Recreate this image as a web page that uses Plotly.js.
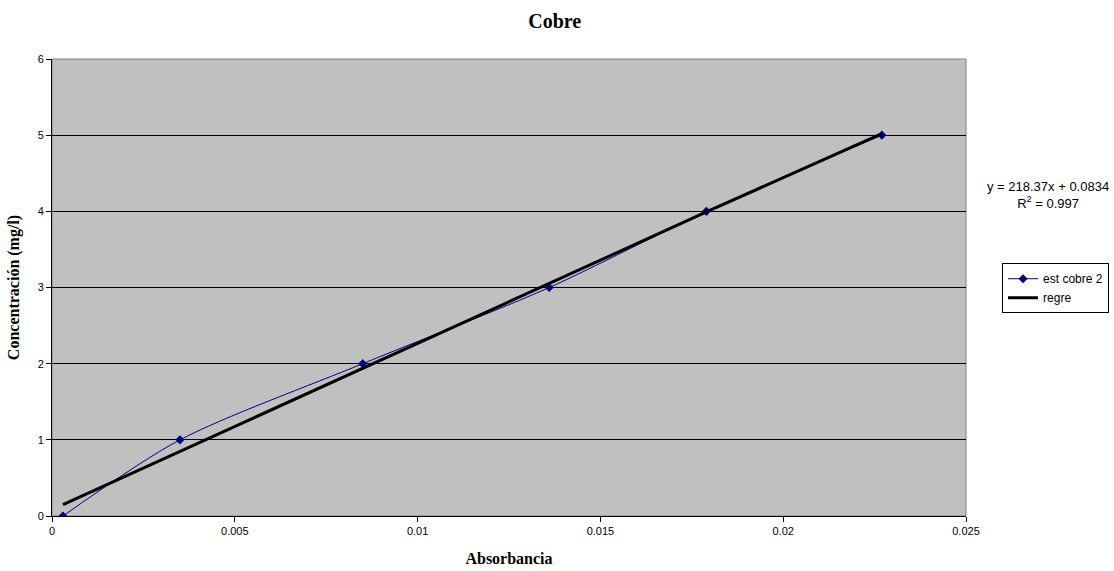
<!DOCTYPE html>
<html>
<head>
<meta charset="utf-8">
<script src="https://cdn.plot.ly/plotly-3.0.1.min.js"></script>
<style>html,body{margin:0;padding:0;background:#fff;}#chart{width:1114px;height:571px;}</style>
</head>
<body>
<div id="chart"></div>
<script>
// Data
const absorbancia = [0.0003, 0.0035, 0.0085, 0.0136, 0.0179, 0.0227];
const concentracion = [0, 1, 2, 3, 4, 5];
// Regression line values (y = 218.37x + 0.0834) at the same absorbances
const regreY = [0.149, 0.848, 1.940, 3.053, 3.992, 5.020];
const equationText = "y = 218.37x + 0.0834<br>R<sup>2</sup> = 0.997";
const xTicks = [0, 0.005, 0.01, 0.015, 0.02, 0.025];
const xTickLabels = ["0", "0.005", "0.01", "0.015", "0.02", "0.025"];
const yTicks = [0, 1, 2, 3, 4, 5, 6];

const traces = [
  {
    x: absorbancia, y: concentracion, name: "est cobre 2",
    mode: "lines+markers", type: "scatter",
    line: {color: "#000080", width: 1, shape: "spline", smoothing: 0.8},
    marker: {symbol: "diamond", size: 7, color: "#000080"}
  },
  {
    x: absorbancia, y: regreY, name: "regre",
    mode: "lines", type: "scatter",
    line: {color: "#000000", width: 3}
  }
];

const tickFont = {family: "Liberation Sans, Arial, sans-serif", size: 11, color: "#000"};
const serif = "Liberation Serif, Times New Roman, serif";
const layout = {
  width: 1114, height: 571,
  margin: {l: 52, r: 148, t: 59, b: 55, autoexpand: false},
  paper_bgcolor: "#ffffff",
  plot_bgcolor: "#C0C0C0",
  title: {text: "<b>Cobre</b>", x: 0.498, xref: "container", xanchor: "center",
          y: 0.963, yref: "container", yanchor: "middle",
          font: {family: serif, size: 20, color: "#000"}},
  xaxis: {
    range: [0, 0.025], tickvals: xTicks, ticktext: xTickLabels,
    showgrid: false, zeroline: false,
    showline: true, linecolor: "#000", linewidth: 1,
    ticks: "outside", ticklen: 5, tickcolor: "#000",
    tickfont: tickFont,
    title: {text: "<b>Absorbancia</b>", standoff: 16,
            font: {family: serif, size: 16, color: "#000"}}
  },
  yaxis: {
    range: [0, 6], tickvals: yTicks,
    showgrid: true, gridcolor: "#000", gridwidth: 1,
    zeroline: false,
    showline: true, linecolor: "#000", linewidth: 1,
    ticks: "outside", ticklen: 5, tickcolor: "#000",
    tickfont: tickFont,
    title: {text: "<b>Concentración (mg/l)</b>", standoff: 14,
            font: {family: serif, size: 16, color: "#000"}}
  },
  shapes: [
    {type: "rect", xref: "paper", yref: "paper", x0: 0, x1: 1, y0: 0, y1: 1,
     line: {color: "#808080", width: 1}, layer: "below"}
  ],
  showlegend: true,
  legend: {
    xref: "container", yref: "container",
    x: 0.8995, y: 0.539, xanchor: "left", yanchor: "top",
    bgcolor: "#ffffff", bordercolor: "#000", borderwidth: 1,
    font: {family: "Liberation Sans, Arial, sans-serif", size: 12, color: "#000"},
    itemwidth: 30, tracegroupgap: 0
  },
  annotations: [
    {text: equationText, xref: "paper", yref: "paper", x: 1.0897, y: 0.702,
     xanchor: "center", yanchor: "middle", showarrow: false, align: "center",
     font: {family: "Liberation Sans, Arial, sans-serif", size: 13, color: "#000"}}
  ]
};

Plotly.newPlot("chart", traces, layout, {displayModeBar: false, staticPlot: true});
</script>
</body>
</html>
